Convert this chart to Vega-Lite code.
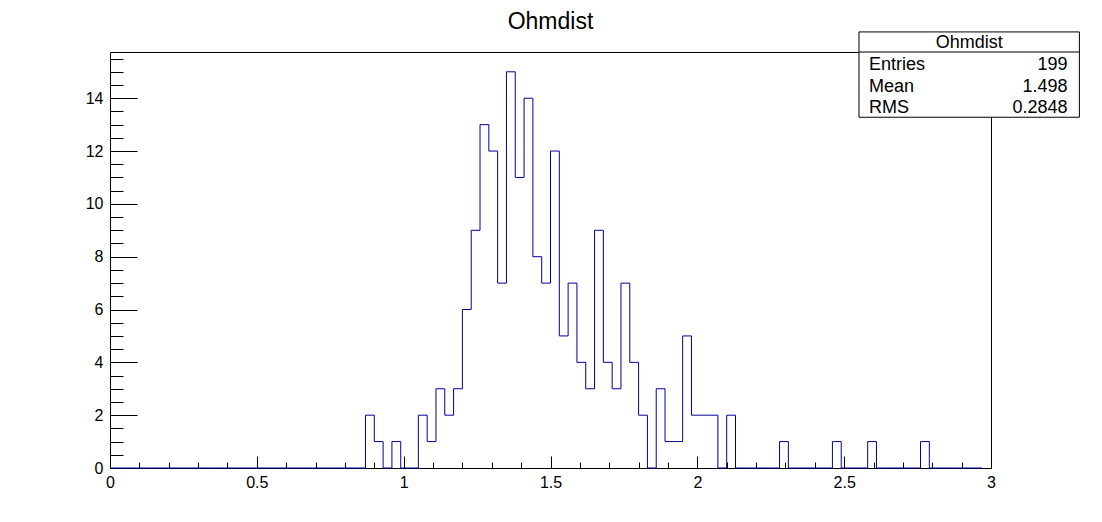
{
  "$schema": "https://vega.github.io/schema/vega-lite/v6.json",
  "width": 881,
  "height": 416,
  "autosize": {"type": "none"},
  "padding": {"left": 110, "top": 52, "right": 111, "bottom": 54},
  "background": "white",
  "title": {"text": "Ohmdist", "font": "Liberation Sans", "fontSize": 23, "fontWeight": "normal", "color": "black", "anchor": "middle", "frame": "group", "baseline": "alphabetic", "offset": -21},
  "config": {
    "view": {"stroke": "black", "strokeWidth": 1},
    "axis": {"grid": false, "domainColor": "black", "tickColor": "black", "labelColor": "black", "labelFont": "Liberation Sans", "labelFontSize": 16, "zindex": 1, "labelOverlap": false, "labelFlush": false, "labelBound": false, "tickWidth": 1, "domainWidth": 1}
  },
  "resolve": {"axis": {"x": "independent", "y": "independent"}},
  "layer": [
    {
      "data": {"values": [
        {"x": 0, "count": 0}, {"x": 0.03, "count": 0}, {"x": 0.06, "count": 0}, {"x": 0.09, "count": 0}, {"x": 0.12, "count": 0},
        {"x": 0.15, "count": 0}, {"x": 0.18, "count": 0}, {"x": 0.21, "count": 0}, {"x": 0.24, "count": 0}, {"x": 0.27, "count": 0},
        {"x": 0.3, "count": 0}, {"x": 0.33, "count": 0}, {"x": 0.36, "count": 0}, {"x": 0.39, "count": 0}, {"x": 0.42, "count": 0},
        {"x": 0.45, "count": 0}, {"x": 0.48, "count": 0}, {"x": 0.51, "count": 0}, {"x": 0.54, "count": 0}, {"x": 0.57, "count": 0},
        {"x": 0.6, "count": 0}, {"x": 0.63, "count": 0}, {"x": 0.66, "count": 0}, {"x": 0.69, "count": 0}, {"x": 0.72, "count": 0},
        {"x": 0.75, "count": 0}, {"x": 0.78, "count": 0}, {"x": 0.81, "count": 0}, {"x": 0.84, "count": 0}, {"x": 0.87, "count": 2},
        {"x": 0.9, "count": 1}, {"x": 0.93, "count": 0}, {"x": 0.96, "count": 1}, {"x": 0.99, "count": 0}, {"x": 1.02, "count": 0},
        {"x": 1.05, "count": 2}, {"x": 1.08, "count": 1}, {"x": 1.11, "count": 3}, {"x": 1.14, "count": 2}, {"x": 1.17, "count": 3},
        {"x": 1.2, "count": 6}, {"x": 1.23, "count": 9}, {"x": 1.26, "count": 13}, {"x": 1.29, "count": 12}, {"x": 1.32, "count": 7},
        {"x": 1.35, "count": 15}, {"x": 1.38, "count": 11}, {"x": 1.41, "count": 14}, {"x": 1.44, "count": 8}, {"x": 1.47, "count": 7},
        {"x": 1.5, "count": 12}, {"x": 1.53, "count": 5}, {"x": 1.56, "count": 7}, {"x": 1.59, "count": 4}, {"x": 1.62, "count": 3},
        {"x": 1.65, "count": 9}, {"x": 1.68, "count": 4}, {"x": 1.71, "count": 3}, {"x": 1.74, "count": 7}, {"x": 1.77, "count": 4},
        {"x": 1.8, "count": 2}, {"x": 1.83, "count": 0}, {"x": 1.86, "count": 3}, {"x": 1.89, "count": 1}, {"x": 1.92, "count": 1},
        {"x": 1.95, "count": 5}, {"x": 1.98, "count": 2}, {"x": 2.01, "count": 2}, {"x": 2.04, "count": 2}, {"x": 2.07, "count": 0},
        {"x": 2.1, "count": 2}, {"x": 2.13, "count": 0}, {"x": 2.16, "count": 0}, {"x": 2.19, "count": 0}, {"x": 2.22, "count": 0},
        {"x": 2.25, "count": 0}, {"x": 2.28, "count": 1}, {"x": 2.31, "count": 0}, {"x": 2.34, "count": 0}, {"x": 2.37, "count": 0},
        {"x": 2.4, "count": 0}, {"x": 2.43, "count": 0}, {"x": 2.46, "count": 1}, {"x": 2.49, "count": 0}, {"x": 2.52, "count": 0},
        {"x": 2.55, "count": 0}, {"x": 2.58, "count": 1}, {"x": 2.61, "count": 0}, {"x": 2.64, "count": 0}, {"x": 2.67, "count": 0},
        {"x": 2.7, "count": 0}, {"x": 2.73, "count": 0}, {"x": 2.76, "count": 1}, {"x": 2.79, "count": 0}, {"x": 2.82, "count": 0},
        {"x": 2.85, "count": 0}, {"x": 2.88, "count": 0}, {"x": 2.91, "count": 0}, {"x": 2.94, "count": 0}, {"x": 2.97, "count": 0}
      ]},
      "mark": {"type": "line", "interpolate": "step-after", "color": "#000099", "strokeWidth": 1},
      "encoding": {
        "x": {"field": "x", "type": "quantitative",
          "scale": {"domain": [0, 3], "nice": false, "zero": false},
          "axis": {
            "title": null,
            "orient": "bottom",
            "tickCount": 200,
            "values": [0, 0.5, 1, 1.5, 2, 2.5, 3],
            "format": "~g",
            "labelOverlap": false,
            "tickSize": -12,
            "labelPadding": 31.5,
            "labelBaseline": "alphabetic"
          }},
        "y": {"field": "count", "type": "quantitative",
          "scale": {"domain": [0, 15.75], "nice": false, "zero": false},
          "axis": {
            "title": null,
            "orient": "left",
            "tickCount": 200,
            "values": [0, 2, 4, 6, 8, 10, 12, 14],
            "format": "~g",
            "labelOverlap": false,
            "tickSize": -27,
            "labelPadding": 34
          }}
      }
    },
    {
      "data": {"values": [{"title": "Ohmdist", "names": "Entries\nMean\nRMS", "vals": "199\n1.498\n0.2848"}]},
      "layer": [
        {
          "mark": {"type": "rect", "fill": "white", "stroke": "black", "strokeWidth": 1},
          "encoding": {
            "x": {"datum": 2.5505, "type": "quantitative",
              "axis": {
                "title": null,
                "orient": "bottom",
                "tickCount": 200,
                "values": [0.1, 0.2, 0.3, 0.4, 0.6, 0.7, 0.8, 0.9, 1.1, 1.2, 1.3, 1.4, 1.6, 1.7, 1.8, 1.9, 2.1, 2.2, 2.3, 2.4, 2.6, 2.7, 2.8, 2.9],
                "labels": false,
                "domain": false,
                "tickSize": -6
              }},
            "x2": {"datum": 3.301},
            "y": {"datum": 16.51, "type": "quantitative",
              "axis": {
                "title": null,
                "orient": "left",
                "tickCount": 200,
                "values": [0.5, 1, 1.5, 2.5, 3, 3.5, 4.5, 5, 5.5, 6.5, 7, 7.5, 8.5, 9, 9.5, 10.5, 11, 11.5, 12.5, 13, 13.5, 14.5, 15, 15.5],
                "labels": false,
                "domain": false,
                "tickSize": -13
              }},
            "y2": {"datum": 13.28}
          }
        },
        {
          "mark": {"type": "rule", "color": "black", "strokeWidth": 1},
          "encoding": {
            "x": {"datum": 2.5505, "type": "quantitative"},
            "x2": {"datum": 3.301},
            "y": {"datum": 15.75, "type": "quantitative"}
          }
        },
        {
          "mark": {"type": "text", "font": "Liberation Sans", "fontSize": 18, "color": "black", "align": "center", "baseline": "middle"},
          "encoding": {
            "x": {"datum": 2.926, "type": "quantitative"},
            "y": {"datum": 16.08, "type": "quantitative"},
            "text": {"field": "title", "type": "nominal"}
          }
        },
        {
          "mark": {"type": "text", "font": "Liberation Sans", "fontSize": 18, "color": "black", "align": "left", "baseline": "middle", "lineBreak": "\n", "lineHeight": 21.6},
          "encoding": {
            "x": {"datum": 2.5845, "type": "quantitative"},
            "y": {"datum": 15.25, "type": "quantitative"},
            "text": {"field": "names", "type": "nominal"}
          }
        },
        {
          "mark": {"type": "text", "font": "Liberation Sans", "fontSize": 18, "color": "black", "align": "right", "baseline": "middle", "lineBreak": "\n", "lineHeight": 21.6},
          "encoding": {
            "x": {"datum": 3.2603, "type": "quantitative"},
            "y": {"datum": 15.25, "type": "quantitative"},
            "text": {"field": "vals", "type": "nominal"}
          }
        }
      ]
    }
  ]
}
